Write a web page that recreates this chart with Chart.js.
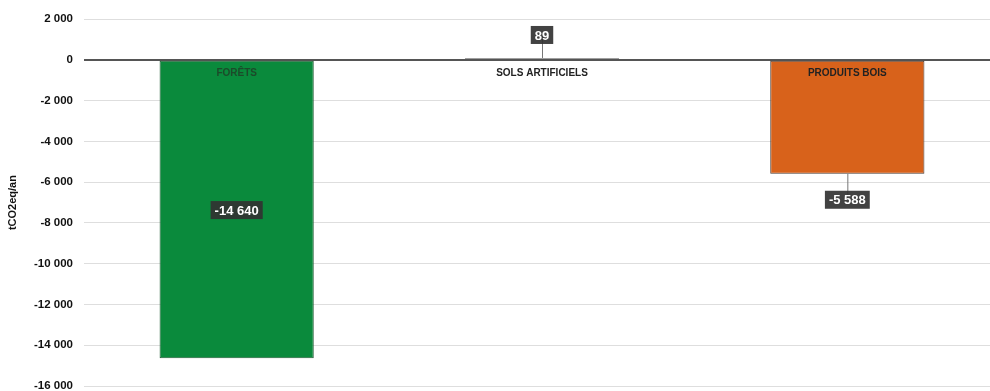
<!DOCTYPE html>
<html>
<head>
<meta charset="utf-8">
<script src="https://cdn.jsdelivr.net/npm/chart.js@4"></script>
<style>
  html, body { margin: 0; padding: 0; background: #fff; overflow: hidden; }
  #wrap { width: 1000px; height: 404px; position: relative; }
</style>
</head>
<body>
<div id="wrap"><canvas id="flux_chart"></canvas></div>
<script>
// data
const categories = ['FORÊTS', 'SOLS ARTIFICIELS', 'PRODUITS BOIS'];
const values = [-14640, 89, -5588];
const barColors = ['#0a8a3c', '#c8c8c8', '#d8621b'];
const barBorders = ['#1f5a33', '#555555', '#4a3a30'];
const axisTitle = 'tCO2eq/an';

function fmt(v) {
    const s = Math.abs(v).toString().replace(/\B(?=(\d{3})+(?!\d))/g, ' ');
    return (v < 0 ? '-' : '') + s;
}

// labels in the bars + value boxes
const labelPlugin = {
    id: 'barLabels',
    afterDatasetsDraw(chart) {
        const ctx = chart.ctx;
        const meta = chart.getDatasetMeta(0);
        const y = chart.scales.y;
        const zero = y.getPixelForValue(0);
        ctx.save();
        meta.data.forEach((bar, i) => {
            const v = values[i];
            // category name just under the zero line
            ctx.font = 'bold 10px "Liberation Sans", Arial, sans-serif';
            ctx.textAlign = 'center';
            ctx.textBaseline = 'middle';
            ctx.fillStyle = i === 0 ? '#1c4a2a' : '#222';
            ctx.fillText(categories[i], bar.x, zero + 13);

            // value box
            let by;
            if (i === 0) by = (zero + bar.y) / 2 + 1;
            else if (v > 0) by = bar.y - 23;
            else by = bar.y + 26;
            if (i !== 0) {
                ctx.strokeStyle = '#777';
                ctx.lineWidth = 1;
                ctx.beginPath();
                ctx.moveTo(bar.x + 0.5, bar.y);
                ctx.lineTo(bar.x + 0.5, by);
                ctx.stroke();
            }
            ctx.font = 'bold 13px "Liberation Sans", Arial, sans-serif';
            const t = fmt(v);
            const w = ctx.measureText(t).width + 8;
            ctx.fillStyle = 'rgba(50,50,50,0.92)';
            ctx.fillRect(bar.x - w / 2, by - 9, w, 18);
            ctx.fillStyle = '#fff';
            ctx.fillText(t, bar.x, by + 1);
        });
        ctx.restore();
    }
};

const chart_data = {
    labels: categories,
    datasets: [{
        data: values,
        backgroundColor: barColors,
        borderColor: barBorders,
        borderWidth: 1,
        borderSkipped: false,
        categoryPercentage: 0.505,
        barPercentage: 1
    }]
};

const config = {
    type: 'bar',
    data: chart_data,
    plugins: [labelPlugin],
    options: {
        responsive: true,
        maintainAspectRatio: false,
        animation: false,
        layout: { padding: { top: 19, right: 0, bottom: 0, left: 0 } },
        plugins: {
            legend: { display: false },
            tooltip: { enabled: false }
        },
        scales: {
            x: {
                display: false
            },
            y: {
                min: -16000,
                max: 2000,
                afterFit(scale) { scale.width = 84; },
                border: { display: false },
                grid: {
                    color: ctx => ctx.tick.value === 0 ? '#555' : '#dedede',
                    lineWidth: ctx => ctx.tick.value === 0 ? 2 : 1,
                    drawTicks: false
                },
                ticks: {
                    stepSize: 2000,
                    padding: 11,
                    color: '#111',
                    font: { family: '"Liberation Sans", Arial, sans-serif', size: 11.5, weight: 'bold' },
                    callback: v => fmt(v)
                },
                title: {
                    display: true,
                    text: axisTitle,
                    color: '#111',
                    padding: { top: 6, bottom: 4 },
                    font: { family: '"Liberation Sans", Arial, sans-serif', size: 11, weight: 'bold' }
                }
            }
        }
    }
};

const chart = new Chart(document.getElementById('flux_chart'), config);
</script>
</body>
</html>
